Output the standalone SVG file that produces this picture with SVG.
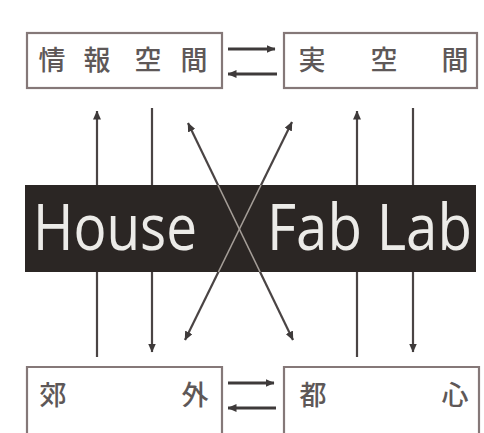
<svg xmlns="http://www.w3.org/2000/svg" width="484" height="433" viewBox="0 0 484 433">
<style>
.box{fill:none;stroke:#857878;stroke-width:2.2}
.jp{font-family:"Noto Sans CJK JP","Noto Sans CJK SC",sans-serif;font-size:27px;font-weight:500;fill:#5e5858;text-anchor:middle}
.ln{stroke:#4a4444;stroke-width:2.2;fill:none}
.eq{stroke:#3e3a3a;stroke-width:2.8;fill:none}
.en{font-family:"Open Sans","Noto Sans",sans-serif;font-size:64px;fill:#ecebe8}
</style>
<defs>
<marker id="ah" markerWidth="9" markerHeight="8" refX="8.5" refY="4" orient="auto-start-reverse" markerUnits="userSpaceOnUse">
<path d="M0,0 L9,4 L0,8 z" fill="#3e3a3a"/>
</marker>
</defs>
<rect width="484" height="433" fill="#ffffff"/>
<g id="connectors">
<line class="ln" x1="97" y1="357" x2="97" y2="111" marker-end="url(#ah)"/>
<line class="ln" x1="152" y1="108" x2="152" y2="352" marker-end="url(#ah)"/>
<line class="ln" x1="357" y1="357" x2="357" y2="111" marker-end="url(#ah)"/>
<line class="ln" x1="413" y1="108" x2="413" y2="352" marker-end="url(#ah)"/>
<line class="ln" x1="188" y1="123" x2="293" y2="340" marker-start="url(#ah)" marker-end="url(#ah)"/>
<line class="ln" x1="292" y1="122" x2="185" y2="340" marker-start="url(#ah)" marker-end="url(#ah)"/>
<line class="eq" x1="228" y1="49" x2="275" y2="49" marker-end="url(#ah)"/>
<line class="eq" x1="277" y1="74" x2="228" y2="74" marker-end="url(#ah)"/>
<line class="eq" x1="228" y1="383" x2="274" y2="383" marker-end="url(#ah)"/>
<line class="eq" x1="276" y1="408" x2="228" y2="408" marker-end="url(#ah)"/>
</g>
<g id="band">
<rect x="25" y="185" width="451" height="87" fill="#2b2624"/>
<line x1="218" y1="185" x2="260.1" y2="272" stroke="#a59e98" stroke-width="1.6"/>
<line x1="261" y1="185" x2="218.4" y2="272" stroke="#a59e98" stroke-width="1.6"/>
<text class="en" x="33" y="250" textLength="164" lengthAdjust="spacingAndGlyphs">House</text>
<text class="en" x="267" y="250" textLength="205" lengthAdjust="spacingAndGlyphs">Fab Lab</text>
</g>
<g id="node-joho">
<rect class="box" x="27" y="33" width="195" height="55"/>
<text class="jp" y="70"><tspan x="52">情</tspan><tspan x="97">報</tspan><tspan x="148">空</tspan><tspan x="194">間</tspan></text>
</g>
<g id="node-jitsu">
<rect class="box" x="284" y="33" width="193" height="55"/>
<text class="jp" y="70"><tspan x="312">実</tspan><tspan x="384">空</tspan><tspan x="455">間</tspan></text>
</g>
<g id="node-kogai">
<path class="box" d="M27,440 V367 H222 V440"/>
<text class="jp" y="405"><tspan x="53">郊</tspan><tspan x="195">外</tspan></text>
</g>
<g id="node-toshin">
<path class="box" d="M284,440 V367 H479 V440"/>
<text class="jp" y="405"><tspan x="313">都</tspan><tspan x="455">心</tspan></text>
</g>
</svg>
